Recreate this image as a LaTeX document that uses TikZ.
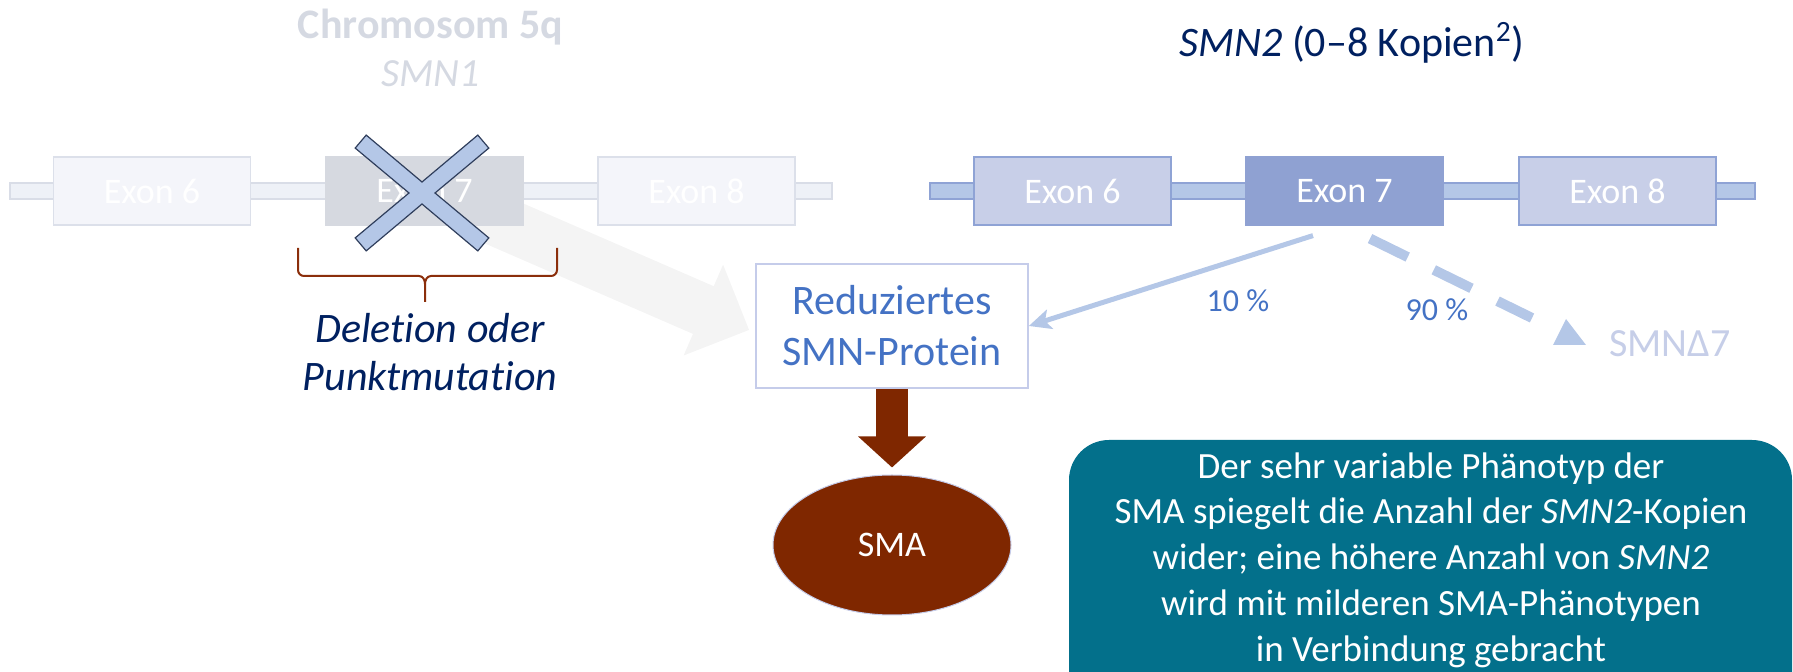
\documentclass[tikz,border=0pt]{standalone}
\usepackage{fontspec}
\setmainfont{Carlito}[Ligatures=NoCommon]
\usetikzlibrary{arrows.meta,shapes.geometric}
\pgfdeclarelayer{background}
\pgfsetlayers{background,main}

\definecolor{navy}{HTML}{002060}
\definecolor{fadetxt}{HTML}{D5D9E2}
\definecolor{fadebb}{HTML}{EEF1F7}
\definecolor{fadebbline}{HTML}{D9DDE7}
\definecolor{fadeexon}{HTML}{F4F5FA}
\definecolor{fadeexonline}{HTML}{DCE0EA}
\definecolor{fadeseven}{HTML}{D6D9E0}
\definecolor{lblue}{HTML}{B4C7E7}
\definecolor{lblueline}{HTML}{8FA3D5}
\definecolor{exonfill}{HTML}{C8CFE8}
\definecolor{sevenfill}{HTML}{8FA1D2}
\definecolor{accent}{HTML}{4472C4}
\definecolor{deltatxt}{HTML}{C6CEE8}
\definecolor{boxline}{HTML}{C5CCEA}
\definecolor{smabrown}{HTML}{7F2700}
\definecolor{bracec}{HTML}{8B2E0B}
\definecolor{infoteal}{HTML}{03708B}
\definecolor{ghost}{HTML}{F4F4F4}
\definecolor{xline}{HTML}{2F3E5C}

\tikzset{
  exon/.style={draw, line width=0.6pt, minimum width=98.5pt, minimum height=34pt,
    inner sep=0pt, text=white, font=\fontsize{18}{22}\selectfont},
  fadedexon/.style={exon, fill=fadeexon, draw=fadeexonline},
  fadedseven/.style={exon, fill=fadeseven, draw=fadeseven},
  liveexon/.style={exon, fill=exonfill, draw=lblueline},
  liveseven/.style={exon, fill=sevenfill, draw=sevenfill},
  backbone/.style={line width=0.6pt},
  label/.style={inner sep=0pt, anchor=base},
  pct/.style={label, text=accent, font=\fontsize{16}{19}\selectfont},
  splice/.style={draw=lblue, line width=2.5pt, -{Stealth[length=11pt,width=10pt,inset=2.5pt]}},
  skip/.style={draw=lblue, line width=5pt, dash pattern=on 21pt off 14.5pt},
  ghostarrow/.style={draw=ghost, line width=26pt, -{Triangle[length=25pt,width=48pt]}},
  resultarrow/.style={draw=smabrown, line width=16pt, -{Triangle[length=15.5pt,width=33pt]}, shorten >=3.5pt},
}

\begin{document}
\begin{tikzpicture}[x=0.5pt,y=-0.5pt]
\useasboundingbox (0,0) rectangle (1793,672);
\clip (0,0) rectangle (1793,672);

% headings
\node[label, text=fadetxt, font=\fontsize{21}{25}\selectfont\bfseries] (chrom) at (430.5,38.5) {Chromosom 5q};
\node[label, text=fadetxt, font=\fontsize{20}{24}\selectfont\itshape] (smn1) at (430.5,87) {SMN1};
\node[label, text=navy, font=\fontsize{21}{25}\selectfont] (smn2) at (1352,57) {\textit{SMN2} (0–8 Kopien\textsuperscript{2})};

% SMN1 gene (faded)
\node[fadedexon]  (l6) at (152,191)   {Exon 6};
\node[fadedseven] (l7) at (424.5,191) {Exon 7};
\node[fadedexon]  (l8) at (696.5,191) {Exon 8};

% SMN2 gene
\node[liveexon]  (r6) at (1072.5,191) {Exon 6};
\node[liveseven] (r7) at (1344.5,191) {Exon 7};
\node[liveexon]  (r8) at (1617.5,191) {Exon 8};

% protein and disease
\node[draw=boxline, line width=0.8pt, minimum width=136pt, minimum height=62pt, inner sep=0pt,
      align=center, text=accent, font=\fontsize{21}{25.5}\selectfont] (red) at (892,326)
      {Reduziertes\\SMN-Protein};
\node[ellipse, fill=smabrown, draw=boxline, line width=0.5pt, minimum width=119pt, minimum height=70pt,
      inner sep=0pt, text=white, font=\fontsize{18}{22}\selectfont] (sma) at (892,545) {SMA};

% mutation note
\node[inner sep=0pt, align=center, text=navy, font=\fontsize{21}{24}\selectfont\itshape] (del) at (430,352)
      {Deletion oder\\Punktmutation};

% backbones and the faded path, kept behind the exons
\begin{pgfonlayer}{background}
  \filldraw[backbone, fill=fadebb, draw=fadebbline] (10,183) rectangle (832,199);
  \filldraw[backbone, fill=lblue, draw=lblueline] (930,183) rectangle (1755,199);
  \draw[ghostarrow] ([shift={(55.5,22)}]l7.center) -- ([shift={(-6,4)}]red.west);
\end{pgfonlayer}

% cross over the deleted exon
\filldraw[fill=lblue, draw=xline, line width=0.6pt]
  (422,182) -- (477.8,135.1) -- (488.8,148.1) -- (435,193) -- (488.8,237.9) -- (477.8,250.9)
  -- (422,204) -- (366.2,250.9) -- (355.2,237.9) -- (409,193) -- (355.2,148.1) -- (366.2,135.1) -- cycle;

% brace under the deleted exon
\draw[bracec, line width=1pt]
  (298,248) -- (298,270) to[out=-90,in=180] (304,276) -- (419,276) to[out=0,in=90] (425,284) -- (425,302);
\draw[bracec, line width=1pt]
  (425,284) to[out=90,in=180] (431,276) -- (551,276) to[out=0,in=-90] (557,270) -- (557,248);

% splicing of SMN2
\draw[splice] ([shift={(-31.5,10)}]r7.south) -- (red.east);
\coordinate (dend) at (1532,318);
\draw[skip] ([shift={(25.5,13)}]r7.south) -- (dend);
\fill[lblue] (1566,319) -- (1586,345) -- (1553,345) -- cycle;

\node[pct] (p10) at (1238,312) {10 \%};
\node[pct] (p90) at (1437,321) {90 \%};
\node[label, text=deltatxt, font=\fontsize{20}{24}\selectfont] (delta) at (1670,357) {SMNΔ7};

% consequence
\draw[resultarrow] (red.south) -- (sma.north);

% info panel
\fill[infoteal, rounded corners=20pt] (1069,440) rectangle (1792,760);
\node[inner sep=0pt, align=center, text=white, font=\fontsize{18.5}{22.9}\selectfont] (info) at (1431,560)
  {Der sehr variable Phänotyp der\\
   SMA spiegelt die Anzahl der \textit{SMN2}-Kopien\\
   wider; eine höhere Anzahl von \textit{SMN2}\\
   wird mit milderen SMA-Phänotypen\\
   in Verbindung gebracht};
\end{tikzpicture}
\end{document}
